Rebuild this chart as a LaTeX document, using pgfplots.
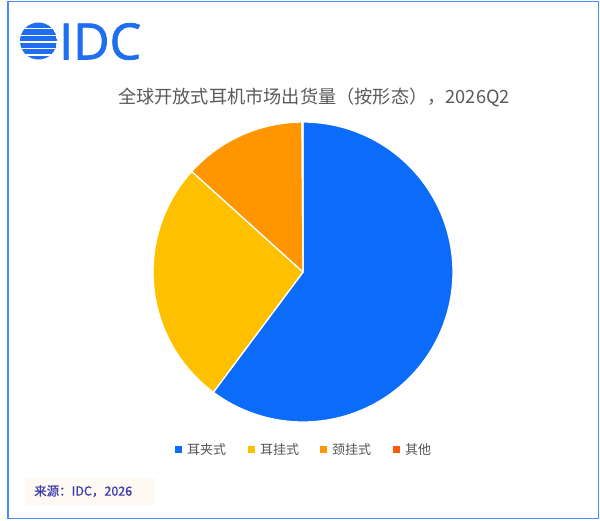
\documentclass[border=0pt]{standalone}
\usepackage{pgfplots}
\usepackage{pgfplotstable}
\pgfplotsset{compat=1.18}
\usepackage{fontspec}
\setmainfont{Noto Sans CJK SC}
\newfontfamily\logofont[FakeBold=1.6]{Open Sans}
\newfontfamily\srcfont[FakeBold=0.8]{Noto Sans CJK SC}
\definecolor{cBlue}{HTML}{0A6CF8}
\definecolor{cYellow}{HTML}{FFC000}
\definecolor{cOrange}{HTML}{FF9500}
\definecolor{cRed}{HTML}{FF5B0A}
\definecolor{cLogo}{HTML}{1F6EF2}
\definecolor{cFrame}{HTML}{4A8CF5}
\definecolor{cTitle}{HTML}{5A5A5A}
\definecolor{cLeg}{HTML}{555555}
\definecolor{cSrc}{HTML}{3A3AA8}
\definecolor{cSrcBg}{HTML}{FFF9F4}
\tikzset{legfont/.style={font=\fontsize{13}{15}\selectfont, text=cLeg, anchor=west, inner sep=0pt}}
\pgfplotsset{wedge/.style={draw=white, line width=1.3pt, line join=round, samples=120, variable=\t}}

\pgfplotstableread{
label share
耳夹式 60.2
耳挂式 26.5
颈挂式 13.2
其他 0.1
}\sharetable
\pgfplotstablegetelem{0}{share}\of\sharetable \let\vA\pgfplotsretval
\pgfplotstablegetelem{1}{share}\of\sharetable \let\vB\pgfplotsretval
\pgfplotstablegetelem{2}{share}\of\sharetable \let\vC\pgfplotsretval
\pgfplotstablegetelem{3}{share}\of\sharetable \let\vD\pgfplotsretval
\pgfmathsetmacro\tot{\vA+\vB+\vC+\vD}
\pgfmathsetmacro\aA{\vA/\tot*360}
\pgfmathsetmacro\aB{\aA+\vB/\tot*360}
\pgfmathsetmacro\aC{\aB+\vC/\tot*360}
\pgfmathsetmacro\aD{360}

\begin{document}
\begin{tikzpicture}
\begin{axis}[
  scale only axis, width=600pt, height=520pt,
  xmin=0, xmax=600, ymin=0, ymax=520, y dir=reverse,
  axis lines=none, clip=false,
]
% background and frame
\fill[white] (axis cs:0,0) rectangle (axis cs:600,520);
\draw[cFrame, line width=1.6pt] (axis cs:8,1.5) rectangle (axis cs:598.5,518.5);

% pie wedges (cx=303, cy=272, r=150)
\addplot[wedge, fill=cBlue, domain=0:\aA] ({303+150*sin(t)},{272-150*cos(t)}) -- (axis cs:303,272) -- cycle;
\addplot[wedge, fill=cYellow, domain=\aA:\aB] ({303+150*sin(t)},{272-150*cos(t)}) -- (axis cs:303,272) -- cycle;
\addplot[wedge, fill=cOrange, domain=\aB:\aC] ({303+150*sin(t)},{272-150*cos(t)}) -- (axis cs:303,272) -- cycle;
\addplot[wedge, fill=cRed, domain=\aC:\aD, samples=3] ({303+150*sin(t)},{272-150*cos(t)}) -- (axis cs:303,272) -- cycle;

% logo
\begin{scope}
\clip (axis cs:38.5,41) circle[radius=18.5pt];
\fill[cLogo] (axis cs:38.5,41) circle[radius=18.5pt];
\draw[white, line width=1.8pt] (axis cs:15,28.5) -- (axis cs:62,28.5);
\draw[white, line width=1.8pt] (axis cs:15,35.5) -- (axis cs:62,35.5);
\draw[white, line width=1.8pt] (axis cs:15,42) -- (axis cs:62,42);
\draw[white, line width=1.8pt] (axis cs:15,48.5) -- (axis cs:62,48.5);
\draw[white, line width=1.8pt] (axis cs:15,55) -- (axis cs:62,55);
\end{scope}
\node[anchor=west, inner sep=0pt, text=cLogo, font=\logofont\fontsize{50}{50}\selectfont] at (axis cs:59,41.5) {IDC};

% title
\node[text=cTitle, inner sep=0pt, font=\fontsize{18.2}{22}\selectfont] at (axis cs:314,97) {全球开放式耳机市场出货量（按形态），2026Q2};

% legend
\fill[cBlue] (axis cs:175,446) rectangle (axis cs:182,453);
\node[legfont] at (axis cs:187,449.5) {耳夹式};
\fill[cYellow] (axis cs:248,446) rectangle (axis cs:255,453);
\node[legfont] at (axis cs:260,449.5) {耳挂式};
\fill[cOrange] (axis cs:320,446) rectangle (axis cs:327,453);
\node[legfont] at (axis cs:332,449.5) {颈挂式};
\fill[cRed] (axis cs:393,446) rectangle (axis cs:400,453);
\node[legfont] at (axis cs:405,449.5) {其他};

% source
\fill[cSrcBg] (axis cs:25,478) rectangle (axis cs:155,505);
\node[anchor=west, inner sep=0pt, text=cSrc, font=\srcfont\fontsize{12.5}{14}\selectfont] at (axis cs:34,491) {来源：IDC，2026};
\end{axis}
\end{tikzpicture}
\end{document}
